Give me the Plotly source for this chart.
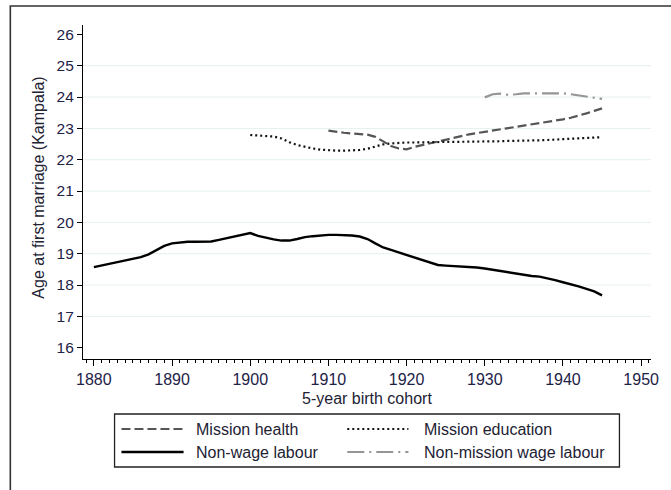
import plotly.graph_objects as go

# ---- data: age at first marriage by 5-year birth cohort (Kampala) ----
years_nonwage = list(range(1880, 1946))
non_wage_labour = [
    18.57, 18.62, 18.67, 18.72, 18.77, 18.82, 18.89, 18.98, 19.12, 19.25,
    19.33, 19.36, 19.38, 19.38, 19.38, 19.39, 19.44, 19.50, 19.55, 19.61,
    19.66, 19.57, 19.51, 19.46, 19.42, 19.42, 19.47, 19.53, 19.56, 19.59,
    19.60, 19.60, 19.60, 19.58, 19.55, 19.47, 19.33, 19.20, 19.12, 19.04,
    18.95, 18.86, 18.78, 18.70, 18.64, 18.62, 18.61, 18.59, 18.57, 18.56,
    18.53, 18.49, 18.43, 18.39, 18.37, 18.33, 18.29, 18.27, 18.22, 18.16,
    18.09, 18.03, 17.96, 17.88, 17.80, 17.67,
]

years_education = list(range(1900, 1946))
mission_education = [
    22.79, 22.77, 22.76, 22.74, 22.68, 22.56, 22.47, 22.41, 22.36, 22.32,
    22.30, 22.29, 22.29, 22.30, 22.31, 22.35, 22.42, 22.49, 22.52, 22.54,
    22.55, 22.55, 22.56, 22.56, 22.57, 22.57, 22.57, 22.57, 22.58, 22.58,
    22.58, 22.59, 22.59, 22.60, 22.60, 22.61, 22.61, 22.62, 22.63, 22.64,
    22.65, 22.66, 22.67, 22.68, 22.70, 22.72,
]

years_health = list(range(1910, 1946))
mission_health = [
    22.93, 22.89, 22.86, 22.84, 22.83, 22.80, 22.73, 22.58, 22.44, 22.36,
    22.33, 22.41, 22.47, 22.53, 22.58, 22.63, 22.69, 22.76, 22.81, 22.85,
    22.89, 22.92, 22.95, 23.00, 23.05, 23.08, 23.13, 23.17, 23.20, 23.25,
    23.29, 23.34, 23.40, 23.48, 23.56, 23.64,
]

years_wage = list(range(1930, 1946))
non_mission_wage_labour = [
    23.99, 24.09, 24.11, 24.07, 24.09, 24.12, 24.12, 24.12, 24.12, 24.13,
    24.12, 24.09, 24.05, 24.01, 23.97, 23.94,
]

x_ticks = [1880, 1890, 1900, 1910, 1920, 1930, 1940, 1950]
y_ticks = list(range(16, 27))
y_grid = list(range(17, 26))

# ---- page geometry (pixels) ----
W, H = 671, 490
ML, MR, MT, MB = 83, 12, 25, 131
PW, PH = W - ML - MR, H - MT - MB


def px(xp):
    return (xp - ML) / PW


def py(yp):
    return (H - MB - yp) / PH


FONT = "Liberation Sans, Arial, sans-serif"
TICK_COL = "#1e2247"
TEXT_COL = "#222233"

styles = {
    "Mission health": dict(color="#555555", width=2.2, dash="9px,4px"),
    "Mission education": dict(color="#111111", width=2.2, dash="2px,3px"),
    "Non-wage labour": dict(color="#000000", width=2.4, dash="solid"),
    "Non-mission wage labour": dict(color="#959595", width=2.2, dash="17px,5px,2px,5px"),
}

fig = go.Figure()
series = [
    ("Mission health", years_health, mission_health),
    ("Mission education", years_education, mission_education),
    ("Non-wage labour", years_nonwage, non_wage_labour),
    ("Non-mission wage labour", years_wage, non_mission_wage_labour),
]
for name, xs, ys in series:
    fig.add_trace(go.Scatter(
        x=xs, y=ys, mode="lines", name=name, line=styles[name],
        showlegend=False, line_shape="linear",
    ))

shapes = []
# horizontal grid lines
for g in y_grid:
    shapes.append(dict(type="line", xref="paper", yref="y", x0=0, x1=1, y0=g, y1=g,
                       line=dict(color="#e6eff0", width=1), layer="below"))
# outer frame around the whole graph
shapes.append(dict(type="rect", xref="paper", yref="paper",
                   x0=px(9.3), x1=px(700), y0=py(520), y1=py(6),
                   line=dict(color="#333333", width=1.6), fillcolor="rgba(0,0,0,0)"))
# legend box
shapes.append(dict(type="rect", xref="paper", yref="paper",
                   x0=px(115), x1=px(627), y0=py(467), y1=py(414),
                   line=dict(color="#222222", width=1.3), fillcolor="rgba(0,0,0,0)"))

annotations = []
legend_items = [
    ("Mission health", 122, 185, 195.5, 429),
    ("Mission education", 351, 413, 427, 429),
    ("Non-wage labour", 122, 185, 195.5, 452),
    ("Non-mission wage labour", 351, 413, 427, 452),
]
for name, lx0, lx1, tx, ty in legend_items:
    st = styles[name]
    shapes.append(dict(type="line", xref="paper", yref="paper",
                       x0=px(lx0), x1=px(lx1), y0=py(ty), y1=py(ty),
                       line=dict(color=st["color"], width=st["width"], dash=st["dash"])))
    annotations.append(dict(text=name, xref="paper", yref="paper", x=px(tx), y=py(ty),
                            xanchor="left", yanchor="middle", showarrow=False,
                            font=dict(family=FONT, size=16, color=TEXT_COL)))

# axis titles
annotations.append(dict(text="5-year birth cohort", xref="paper", yref="paper",
                        x=px(371), y=py(398), xanchor="center", yanchor="middle",
                        showarrow=False, font=dict(family=FONT, size=16, color=TEXT_COL)))
annotations.append(dict(text="Age at first marriage (Kampala)", xref="paper", yref="paper",
                        x=px(37), y=py(188), xanchor="center", yanchor="middle",
                        textangle=-90, showarrow=False,
                        font=dict(family=FONT, size=16, color=TEXT_COL)))

fig.update_layout(
    width=W, height=H,
    margin=dict(l=ML, r=MR, t=MT, b=MB, pad=0),
    paper_bgcolor="white", plot_bgcolor="white",
    font=dict(family=FONT, color=TICK_COL),
    shapes=shapes, annotations=annotations,
    xaxis=dict(
        range=[1878.61, 1951.26], tickvals=x_ticks, showgrid=False, zeroline=False,
        showline=True, linecolor="#000000", linewidth=1.2,
        ticks="outside", ticklen=6, tickwidth=1.2, tickcolor="#000000",
        tickfont=dict(family=FONT, size=16, color=TICK_COL),
        minor=dict(dtick=1, tick0=1880, ticks="outside", ticklen=3, tickwidth=1,
                   tickcolor="#000000", showgrid=False),
    ),
    yaxis=dict(
        range=[15.64, 26.30], tickvals=y_ticks, showgrid=False, zeroline=False,
        showline=True, linecolor="#000000", linewidth=1.2,
        ticks="outside", ticklen=5, tickwidth=1.2, tickcolor="#000000",
        tickfont=dict(family=FONT, size=15.5, color=TICK_COL),
    ),
)

fig.write_html("out.html")
